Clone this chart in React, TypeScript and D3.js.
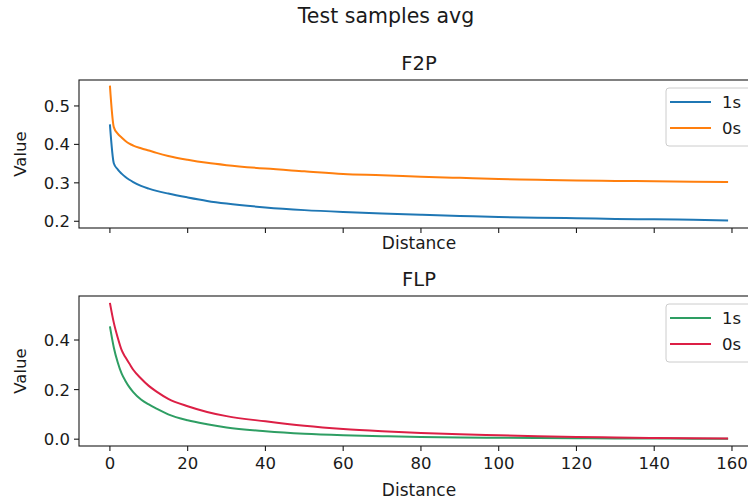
import React from "react";
import * as d3 from "d3";

const distances = [0, 1, 2, 3, 4, 5, 6, 8, 10, 12, 15, 20, 25, 30, 40, 50, 60, 70, 80, 90, 100, 110, 120, 130, 140, 150, 159];

const f2p1s = [0.452, 0.351, 0.335, 0.324, 0.315, 0.308, 0.302, 0.292, 0.285, 0.279, 0.272, 0.262, 0.253, 0.246, 0.236, 0.229, 0.224, 0.220, 0.217, 0.214, 0.211, 0.209, 0.208, 0.206, 0.205, 0.204, 0.202];
const f2p0s = [0.553, 0.445, 0.428, 0.418, 0.409, 0.402, 0.397, 0.390, 0.384, 0.378, 0.370, 0.360, 0.352, 0.346, 0.337, 0.330, 0.323, 0.320, 0.316, 0.313, 0.310, 0.308, 0.306, 0.305, 0.304, 0.303, 0.302];
const flp1s = [0.455, 0.370, 0.310, 0.265, 0.235, 0.210, 0.190, 0.160, 0.140, 0.123, 0.100, 0.076, 0.060, 0.047, 0.032, 0.022, 0.016, 0.012, 0.009, 0.007, 0.006, 0.005, 0.004, 0.003, 0.003, 0.002, 0.002];
const flp0s = [0.550, 0.470, 0.410, 0.360, 0.330, 0.305, 0.280, 0.245, 0.215, 0.192, 0.163, 0.133, 0.110, 0.093, 0.072, 0.054, 0.041, 0.032, 0.025, 0.020, 0.016, 0.012, 0.009, 0.007, 0.005, 0.004, 0.003];

const xTicks = [0, 20, 40, 60, 80, 100, 120, 140, 160];
const f2pTicks = [0.2, 0.3, 0.4, 0.5];
const flpTicks = [0.0, 0.2, 0.4];
const seriesLabels = ["1s", "0s"];

const FONT = "DejaVu Sans, sans-serif";
const AX = "#1a1a1a";

type Panel = {
  title: string;
  top: number;
  bottom: number;
  domain: [number, number];
  ticks: number[];
  series: number[][];
  colors: string[];
  showXTickLabels: boolean;
  xlabelY: number;
};

const left = 79;
const right = 759;
const x = d3.scaleLinear().domain([-7.95, 166.95]).range([left, right]);

function PanelView({ p }: { p: Panel }) {
  const y = d3.scaleLinear().domain(p.domain).range([p.bottom, p.top]);
  const line = d3
    .line<[number, number]>()
    .x((d) => x(d[0]))
    .y((d) => y(d[1]))
    .curve(d3.curveMonotoneX);
  const cx = (left + right) / 2;
  const legTop = p.top + 8;
  return (
    <g>
      {p.series.map((s, i) => (
        <path
          key={i}
          d={line(distances.map((d, j) => [d, s[j]] as [number, number])) || ""}
          fill="none"
          stroke={p.colors[i]}
          strokeWidth={2}
        />
      ))}
      <rect x={left} y={p.top} width={right - left} height={p.bottom - p.top} fill="none" stroke={AX} strokeWidth={1.1} />
      {xTicks.map((t) => (
        <g key={t}>
          <line x1={x(t)} x2={x(t)} y1={p.bottom} y2={p.bottom + 5} stroke={AX} strokeWidth={1.1} />
          {p.showXTickLabels && (
            <text x={x(t)} y={p.bottom + 23} textAnchor="middle" fontSize={16.5} fontFamily={FONT} fill={AX}>
              {t}
            </text>
          )}
        </g>
      ))}
      {p.ticks.map((t) => (
        <g key={t}>
          <line x1={left - 5} x2={left} y1={y(t)} y2={y(t)} stroke={AX} strokeWidth={1.1} />
          <text x={left - 9} y={y(t)} dy="0.36em" textAnchor="end" fontSize={16.5} fontFamily={FONT} fill={AX}>
            {t.toFixed(1)}
          </text>
        </g>
      ))}
      <text x={cx} y={p.top - 10} textAnchor="middle" fontSize={19.5} fontFamily={FONT} fill={AX}>
        {p.title}
      </text>
      <text x={cx} y={p.xlabelY} textAnchor="middle" fontSize={17} fontFamily={FONT} fill={AX}>
        Distance
      </text>
      <text
        transform={`translate(26,${(p.top + p.bottom) / 2}) rotate(-90)`}
        textAnchor="middle"
        fontSize={16.5}
        fontFamily={FONT}
        fill={AX}
      >
        Value
      </text>
      <rect x={666} y={legTop} width={90} height={58} rx={3} fill="white" fillOpacity={0.8} stroke="#cccccc" strokeWidth={1} />
      {seriesLabels.map((lab, i) => (
        <g key={lab}>
          <line x1={670} x2={711} y1={legTop + 14 + i * 26} y2={legTop + 14 + i * 26} stroke={p.colors[i]} strokeWidth={2} />
          <text x={722} y={legTop + 14 + i * 26} dy="0.36em" fontSize={16.5} fontFamily={FONT} fill={AX}>
            {lab}
          </text>
        </g>
      ))}
    </g>
  );
}

export default function App() {
  const panels: Panel[] = [
    {
      title: "F2P",
      top: 80,
      bottom: 228,
      domain: [0.1825, 0.5675],
      ticks: f2pTicks,
      series: [f2p1s, f2p0s],
      colors: ["#1f77b4", "#ff7f0e"],
      showXTickLabels: false,
      xlabelY: 249,
    },
    {
      title: "FLP",
      top: 296,
      bottom: 446,
      domain: [-0.0275, 0.5775],
      ticks: flpTicks,
      series: [flp1s, flp0s],
      colors: ["#2e9e63", "#dc1f45"],
      showXTickLabels: true,
      xlabelY: 496,
    },
  ];
  return (
    <svg width={748} height={501} style={{ position: "absolute", left: 0, top: 0, background: "white" }}>
      <rect width={748} height={501} fill="white" />
      <text x={386} y={23} textAnchor="middle" fontSize={20.5} fontFamily={FONT} fill={AX}>
        Test samples avg
      </text>
      {panels.map((p) => (
        <PanelView key={p.title} p={p} />
      ))}
    </svg>
  );
}
